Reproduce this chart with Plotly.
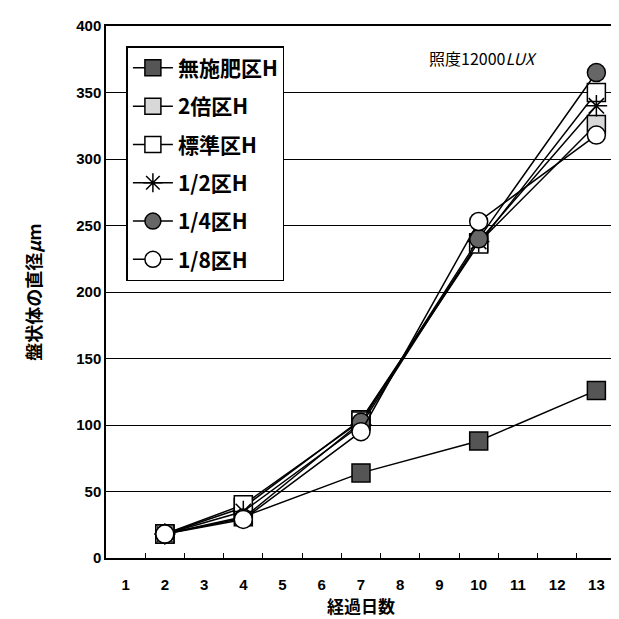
import plotly.graph_objects as go

categories = [str(i) for i in range(1, 14)]
days = ["2", "4", "7", "10", "13"]

series_names = ["無施肥区H", "2倍区H", "標準区H", "1/2区H", "1/4区H", "1/8区H"]
v_mushihi = [18, 31, 64, 88, 126]
v_2bai = [18, 38, 104, 237, 326]
v_hyojun = [18, 40, 103, 236, 350]
v_half = [18, 35, 100, 238, 340]
v_quarter = [18, 30, 102, 240, 365]
v_eighth = [18, 29, 95, 253, 318]
values = [v_mushihi, v_2bai, v_hyojun, v_half, v_quarter, v_eighth]

styles = [
    dict(symbol="square", color="#555555"),
    dict(symbol="square", color="#d8d8d8"),
    dict(symbol="square", color="white"),
    dict(symbol="asterisk-open", color="black"),
    dict(symbol="circle", color="#666666"),
    dict(symbol="circle", color="white"),
]

JP = "Noto Sans CJK JP, Liberation Sans, sans-serif"

fig = go.Figure()
for i, (name, vals, st) in enumerate(zip(series_names, values, styles)):
    fig.add_trace(go.Scatter(
        x=days, y=vals, name=name, mode="lines+markers",
        legendgroup=f"g{i}",
        line=dict(color="black", width=1.5),
        marker=dict(symbol=st["symbol"], size=18, color=st["color"],
                    line=dict(color="black", width=1.5)),
    ))

fig.add_annotation(
    x=0.74, y=0.94, xref="paper", yref="paper",
    xanchor="center", yanchor="middle",
    text="照度12000<i>LUX</i>", showarrow=False,
    font=dict(family=JP, size=16, color="black"),
)

fig.update_layout(
    width=619, height=619,
    margin=dict(l=98, r=11, t=18, b=69, autoexpand=False),
    paper_bgcolor="white", plot_bgcolor="white",
    font=dict(family=JP, color="black"),
    showlegend=True,
    legend=dict(
        x=0.04, y=0.962, xanchor="left", yanchor="top",
        bgcolor="white", bordercolor="black", borderwidth=1.5,
        font=dict(family=JP, size=21, color="black", weight="bold"),
        traceorder="grouped", tracegroupgap=8,
        itemwidth=40,
    ),
    xaxis=dict(
        type="category", categoryorder="array", categoryarray=categories,
        range=[-0.5, 12.5], automargin=False,
        showgrid=False, showline=True, linecolor="black", linewidth=1.5,
        mirror=True,
        ticks="inside", tickson="boundaries", ticklen=5, tickcolor="black",
        ticklabelstandoff=12,
        tickfont=dict(family="Liberation Sans, Arial", size=15, weight="bold"),
        title=dict(text="経過日数", font=dict(family=JP, size=17, weight="bold"), standoff=3),
    ),
    yaxis=dict(
        range=[0, 400], dtick=50, automargin=False,
        showgrid=True, gridcolor="black", gridwidth=1.3,
        showline=True, linecolor="black", linewidth=1.5,
        zeroline=False, ticks="",
        tickfont=dict(family="Liberation Sans, Arial", size=15, weight="bold"),
        title=dict(text="盤状体の直径<i>μ</i>m", font=dict(family=JP, size=18, weight="bold"), standoff=30),
    ),
)

fig.write_html("out.html")
